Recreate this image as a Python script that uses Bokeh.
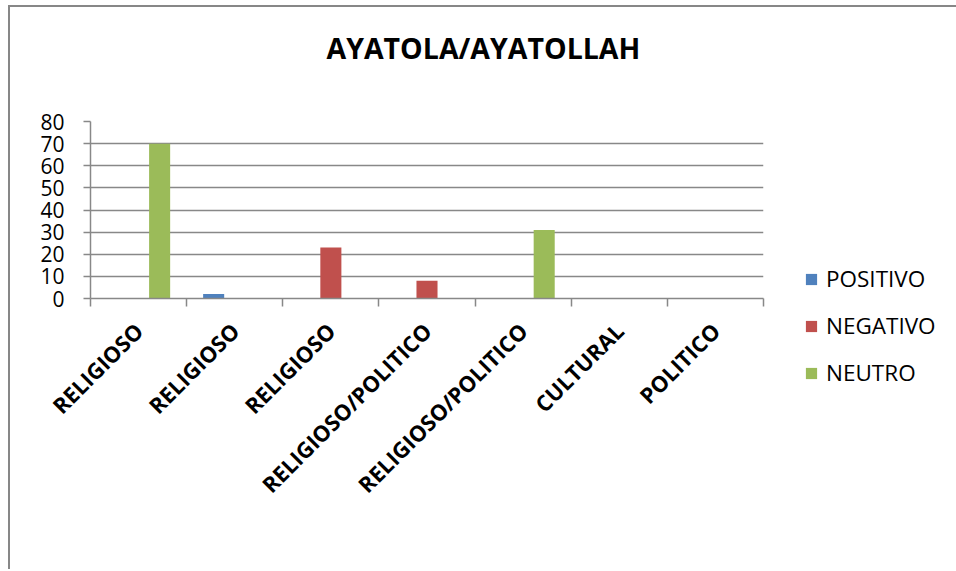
from bokeh.plotting import figure
from bokeh.models import (Range1d, FixedTicker, Legend, LegendItem, ColumnDataSource, Title)
from bokeh.transform import dodge
from bokeh.embed import file_html
from bokeh.resources import INLINE
import math

# ---- data ----
title_text = "AYATOLA/AYATOLLAH"
categories = ["RELIGIOSO", "RELIGIOSO", "RELIGIOSO", "RELIGIOSO/POLITICO",
              "RELIGIOSO/POLITICO", "CULTURAL", "POLITICO"]
series_names = ["POSITIVO", "NEGATIVO", "NEUTRO"]
positivo = [0, 2, 0, 0, 0, 0, 0]
negativo = [0, 0, 23, 8, 0, 0, 0]
neutro = [70, 0, 0, 0, 31, 0, 0]
y_ticks = [0, 10, 20, 30, 40, 50, 60, 70, 80]
colors = ["#4F81BD", "#C0504D", "#9BBB59"]

FONT = "Open Sans"
GRAY = "#888888"

n = len(categories)
centers = [i + 0.5 for i in range(n)]
src = ColumnDataSource(dict(x=centers, POSITIVO=positivo, NEGATIVO=negativo, NEUTRO=neutro))

p = figure(output_backend="svg", toolbar_location=None,
           frame_width=673, frame_height=177,
           min_border_left=80, min_border_right=191, min_border_top=114, min_border_bottom=271,
           x_range=Range1d(0, n), y_range=Range1d(0, 80))

p.styles = {"border-left": "2px solid #878787", "border-top": "2px solid #878787",
            "margin-left": "8px", "margin-top": "5px"}

p.outline_line_color = None
p.xgrid.grid_line_color = None
p.ygrid.grid_line_color = GRAY
p.ygrid.grid_line_width = 1.5

bw = 0.219
renderers = []
for k, (name, col) in enumerate(zip(series_names, colors)):
    r = p.vbar(x=dodge("x", (k - 1) * bw, range=p.x_range), top=name, width=bw,
               source=src, fill_color=col, line_color=None)
    renderers.append(r)

# y axis
p.yaxis.ticker = FixedTicker(ticks=y_ticks)
p.yaxis.axis_line_color = GRAY
p.yaxis.axis_line_width = 1.5
p.yaxis.major_tick_line_color = GRAY
p.yaxis.major_tick_line_width = 1.5
p.yaxis.major_tick_out = 7
p.yaxis.major_tick_in = 0
p.yaxis.minor_tick_line_color = None
p.yaxis.major_label_standoff = 19
p.yaxis.major_label_text_font = FONT
p.yaxis.major_label_text_font_size = "21px"
p.yaxis.major_label_text_color = "black"

# x axis
p.xaxis.ticker = FixedTicker(ticks=centers, minor_ticks=list(range(n + 1)))
p.xaxis.major_label_overrides = {c: lab for c, lab in zip(centers, categories)}
p.xaxis.axis_line_color = GRAY
p.xaxis.axis_line_width = 1.5
p.xaxis.major_tick_line_color = None
p.xaxis.minor_tick_line_color = GRAY
p.xaxis.minor_tick_line_width = 1.5
p.xaxis.minor_tick_out = 8
p.xaxis.minor_tick_in = 0
p.xaxis.major_label_orientation = math.pi / 4
p.xaxis.major_label_standoff = 20
p.xaxis.major_label_text_font = FONT
p.xaxis.major_label_text_font_size = "22px"
p.xaxis.major_label_text_font_style = "bold"
p.xaxis.major_label_text_color = "black"

# title: a blank spacer panel next to the frame, the real title outside it
p.title = None
p.add_layout(Title(text=" ", text_font_size="1px", standoff=52), "above")
p.add_layout(Title(text=title_text, text_font=FONT, text_font_size="28.5px",
                   text_font_style="bold", text_color="black",
                   align="left", offset=236, standoff=0), "above")

# legend
legend = Legend(items=[LegendItem(label=nm, renderers=[r]) for nm, r in zip(series_names, renderers)],
                location=(41, -90), orientation="vertical",
                glyph_width=14, glyph_height=14, label_standoff=8, spacing=16,
                label_height=20, padding=0, margin=0,
                border_line_color=None, background_fill_alpha=0,
                label_text_font=FONT, label_text_font_size="22.5px", label_text_color="black")
p.add_layout(legend, "right")

open("out.html", "w").write(file_html(p, INLINE))
